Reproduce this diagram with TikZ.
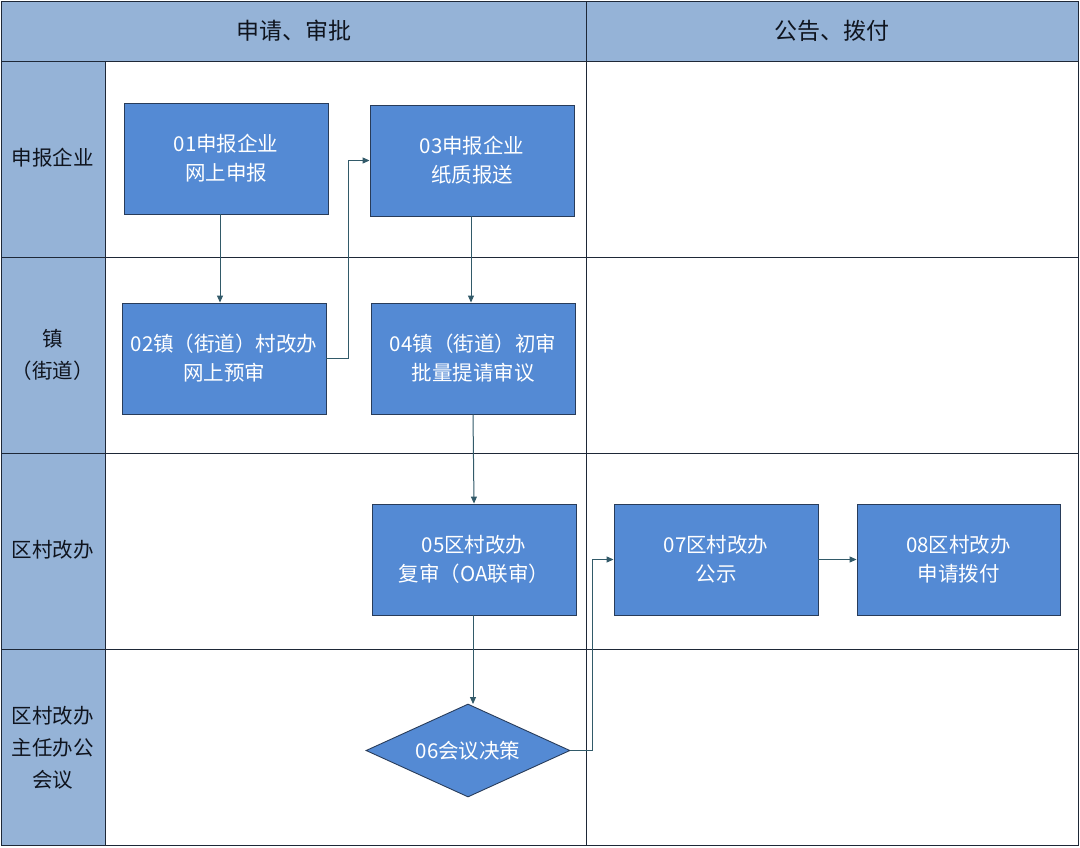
\documentclass[tikz,border=0pt]{standalone}
\usepackage{fontspec}
\setmainfont{Noto Sans CJK SC}
\usetikzlibrary{shapes.geometric,arrows.meta}
\definecolor{hdr}{RGB}{149,179,215}
\definecolor{boxfill}{RGB}{84,138,212}
\definecolor{boxline}{RGB}{40,60,90}
\definecolor{gridline}{RGB}{30,40,55}
\definecolor{arr}{RGB}{50,90,105}
\definecolor{hdrtext}{RGB}{15,20,30}
\tikzset{
  stepbox/.style={draw=boxline, line width=0.9pt, fill=boxfill, text=white, align=center, font=\fontsize{20.5}{29}\selectfont, inner sep=0pt},
  decbox/.style={diamond, draw=boxline, line width=0.9pt, fill=boxfill, text=white, font=\fontsize{20.5}{29}\selectfont, inner sep=0pt, aspect=2.2},
  lanelabel/.style={text=hdrtext, align=center, font=\fontsize{20.5}{32}\selectfont},
  headlabel/.style={text=hdrtext, font=\fontsize{23}{26}\selectfont},
  flow/.style={draw=arr, line width=1pt, -{Triangle[length=7pt,width=6pt]}},
}
\begin{document}
\begin{tikzpicture}[x=1pt,y=-1pt]
\useasboundingbox (0,0) rectangle (1080,847);
\fill[white] (0,0) rectangle (1080,847);
% header and lane label column
\fill[hdr] (1,1) rectangle (1078,61);
\fill[hdr] (1,61) rectangle (105,845);
% grid lines
\draw[gridline, line width=0.8pt] (1,1) rectangle (1078,845);
\draw[gridline, line width=0.8pt] (1,61) -- (1078,61);
\draw[gridline, line width=0.8pt] (1,257) -- (1078,257);
\draw[gridline, line width=0.8pt] (1,453) -- (1078,453);
\draw[gridline, line width=0.8pt] (1,649) -- (1078,649);
\draw[gridline, line width=0.8pt] (105,61) -- (105,845);
\draw[gridline, line width=0.8pt] (586,1) -- (586,845);
% headers
\node[headlabel] (h1) at (294,31) {申请、审批};
\node[headlabel] (h2) at (832,31) {公告、拨付};
% lane labels
\node[lanelabel] (l1) at (53,158) {申报企业};
\node[lanelabel] (l2) at (53,355) {镇\\（街道）};
\node[lanelabel] (l3) at (53,550) {区村改办};
\node[lanelabel] (l4) at (53,748) {区村改办\\主任办公\\会议};
% steps
\node[stepbox, minimum width=204pt, minimum height=111pt] (s1) at (226,158.5) {01申报企业\\网上申报};
\node[stepbox, minimum width=204pt, minimum height=111pt] (s2) at (224,358.5) {02镇（街道）村改办\\网上预审};
\node[stepbox, minimum width=204pt, minimum height=111pt] (s3) at (472,160.5) {03申报企业\\纸质报送};
\node[stepbox, minimum width=204pt, minimum height=111pt] (s4) at (473,358.5) {04镇（街道）初审\\批量提请审议};
\node[stepbox, minimum width=204pt, minimum height=111pt] (s5) at (474,559.5) {05区村改办\\复审（OA联审）};
\node[decbox, minimum width=204pt, minimum height=93pt] (s6) at (468,750.5) {06会议决策};
\node[stepbox, minimum width=204pt, minimum height=111pt] (s7) at (716,559.5) {07区村改办\\公示};
\node[stepbox, minimum width=203pt, minimum height=111pt] (s8) at (958.5,559.5) {08区村改办\\申请拨付};
% connectors
\draw[flow] (s1.south -| 220,0) -- (s2.north -| 220,0);
\draw[flow] (s2.east) -- (348,358.5) |- (s3.west);
\draw[flow] (s3.south -| 471,0) -- (s4.north -| 471,0);
\draw[flow] (s4.south) -- (s5.north);
\draw[flow] (s5.south -| 473,0) -- (473,704);
\draw[flow] (s6.east) -- (592,750.5) |- (s7.west);
\draw[flow] (s7.east) -- (s8.west);
\end{tikzpicture}
\end{document}
